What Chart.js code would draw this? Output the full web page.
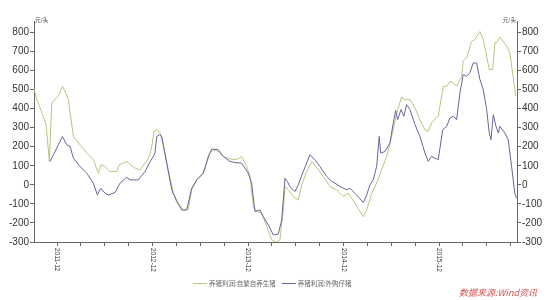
<!DOCTYPE html>
<html>
<head>
<meta charset="utf-8">
<script src="https://cdn.jsdelivr.net/npm/chart.js@4"></script>
<style>
  html, body { margin: 0; background: #fff; }
  canvas { display: block; }
</style>
</head>
<body>
<canvas id="chart" width="550" height="300"></canvas>
<script>
// x values are months counted from 2011-01 (0 = Jan 2011, 11 = Dec 2011)
const selfBredMonths = [8.11, 8.45, 8.86, 9.62, 10.03, 10.33, 10.96, 11.29, 11.67, 12.0, 12.42, 13.05, 13.89, 14.73, 15.56, 16.19, 16.49, 17.03, 17.66, 18.5, 18.83, 19.76, 20.8, 21.43, 22.18, 22.69, 22.93, 23.19, 23.53, 23.94, 24.35, 24.98, 25.61, 26.24, 26.87, 27.49, 27.92, 28.55, 29.18, 29.59, 30.22, 30.64, 31.26, 31.89, 32.73, 33.57, 34.2, 34.83, 35.25, 35.66, 36.09, 36.72, 37.35, 37.97, 38.6, 39.01, 39.43, 39.64, 40.06, 40.69, 41.31, 41.74, 42.37, 43.0, 43.83, 44.46, 45.3, 46.13, 46.97, 47.6, 48.44, 49.06, 49.48, 49.91, 50.54, 51.16, 51.79, 52.42, 53.05, 53.68, 54.3, 54.72, 55.35, 55.98, 56.6, 57.23, 57.65, 58.07, 58.49, 58.9, 59.53, 59.96, 60.37, 60.79, 61.21, 61.84, 62.04, 62.47, 63.1, 63.51, 64.14, 64.56, 64.99, 65.31, 65.74, 66.03, 66.24, 66.65, 67.07, 67.5, 67.91, 68.33, 68.66];
const selfBredProfit = [505, 447, 405, 316, 123, 430, 458, 474, 517, 491, 447, 254, 210, 167, 132, 61, 105, 96, 70, 70, 105, 123, 88, 79, 120, 160, 210, 281, 289, 275, 202, 79, -44, -96, -132, -128, -26, 26, 53, 88, 167, 184, 175, 149, 136, 132, 149, 96, 44, -114, -140, -149, -219, -289, -302, -289, -132, -9, -26, -61, -79, 0, 70, 123, 79, 44, -9, -26, -61, -44, -96, -140, -167, -132, -44, 9, 79, 149, 254, 377, 461, 447, 447, 404, 342, 289, 281, 325, 345, 360, 517, 517, 544, 535, 517, 570, 649, 667, 754, 763, 805, 763, 675, 605, 605, 746, 746, 775, 754, 728, 693, 561, 465];

const boughtMonths = [10.12, 10.54, 11.16, 11.67, 12.22, 12.63, 13.05, 13.89, 14.73, 15.56, 16.06, 16.49, 17.03, 17.44, 18.29, 18.91, 19.76, 20.17, 21.21, 22.05, 22.68, 23.1, 23.3, 23.53, 23.86, 24.16, 24.78, 25.41, 26.04, 26.67, 27.29, 27.92, 28.55, 29.38, 30.01, 30.43, 31.26, 31.89, 32.73, 33.36, 34.2, 35.03, 35.45, 35.87, 36.5, 36.92, 37.55, 38.17, 38.8, 39.23, 39.64, 39.93, 40.27, 40.9, 41.31, 41.94, 42.78, 43.41, 44.04, 44.88, 45.51, 45.92, 46.55, 47.39, 47.8, 48.64, 49.48, 49.91, 50.32, 50.74, 51.16, 51.49, 51.67, 52.21, 52.83, 53.25, 53.55, 53.8, 54.22, 54.59, 54.93, 55.35, 55.98, 56.6, 57.23, 57.65, 58.07, 58.49, 58.9, 59.46, 59.96, 60.37, 60.79, 61.21, 61.63, 62.04, 62.47, 62.88, 63.3, 63.72, 64.14, 64.56, 64.99, 65.31, 65.53, 65.82, 66.16, 66.45, 66.65, 67.28, 67.7, 68.12, 68.53, 68.72];
const boughtProfit = [123, 158, 210, 254, 210, 202, 140, 96, 61, 9, -53, -18, -44, -53, -40, 9, 40, 26, 26, 70, 120, 149, 167, 254, 263, 254, 114, -26, -88, -132, -132, -18, 26, 61, 149, 188, 184, 149, 123, 117, 114, 61, 9, -140, -132, -167, -211, -263, -258, -184, 35, 18, -9, -35, 0, 70, 158, 132, 96, 44, 18, 9, -9, -26, -18, -53, -93, -53, 0, 26, 96, 254, 167, 175, 219, 325, 391, 342, 395, 360, 421, 395, 316, 254, 167, 123, 149, 140, 132, 289, 307, 351, 360, 342, 483, 579, 570, 588, 640, 640, 553, 500, 395, 272, 237, 368, 307, 272, 307, 272, 237, 96, -44, -70];

const seriesNames = ['养猪利润:自繁自养生猪', '养猪利润:外购仔猪'];
const yearTicks = [11, 23, 35, 47, 59];
const yearLabels = ['2011-12', '2012-12', '2013-12', '2014-12', '2015-12'];
const unitLabel = '元/头';
const sourceNote = '数据来源:Wind资讯';

const quarterTicks = [];
for (let m = 11; m <= 68; m += 3) quarterTicks.push(m);

const toPoints = (xs, ys) => xs.map((x, i) => ({ x, y: ys[i] }));

const numFont = '"Liberation Sans", Arial, sans-serif';
const cjkFont = '"Noto Sans CJK SC", sans-serif';

const yAxis = (position, width) => ({
    position,
    min: -300,
    max: 860,
    afterFit: s => { s.width = width; },
    border: { color: '#666' },
    grid: { drawOnChartArea: false, tickLength: 4, color: '#666' },
    ticks: {
        stepSize: 50,
        includeBounds: false,
        padding: 1,
        color: '#333',
        font: { family: numFont, size: 10 },
        callback: v => (v % 100 === 0 ? v : '')
    }
});

// extra text: rotated year labels, units, legend, source
const extras = {
    id: 'extras',
    afterDraw(chart) {
        const { ctx, chartArea: a, scales: { x } } = chart;
        ctx.save();

        ctx.fillStyle = '#333';
        ctx.font = '6.5px ' + numFont;
        ctx.textBaseline = 'middle';
        ctx.textAlign = 'left';
        yearTicks.forEach((m, i) => {
            ctx.save();
            ctx.translate(x.getPixelForValue(m), a.bottom + 6);
            ctx.rotate(Math.PI / 2);
            ctx.fillText(yearLabels[i], 0, 0);
            ctx.restore();
        });

        ctx.font = '5.5px ' + cjkFont;
        ctx.fillStyle = '#444';
        ctx.fillText(unitLabel, a.left + 1, a.top - 1);
        ctx.textAlign = 'right';
        ctx.fillText(unitLabel, a.right - 1, a.top - 1);

        // legend
        ctx.textAlign = 'left';
        ctx.font = '6.5px ' + cjkFont;
        let lx = 193;
        const ly = 283.5;
        chart.data.datasets.forEach(ds => {
            ctx.strokeStyle = ds.borderColor;
            ctx.lineWidth = 1;
            ctx.beginPath();
            ctx.moveTo(lx, ly);
            ctx.lineTo(lx + 14, ly);
            ctx.stroke();
            ctx.fillStyle = '#666';
            ctx.fillText(ds.label, lx + 16, ly);
            lx += 16 + ctx.measureText(ds.label).width + 6;
        });

        ctx.font = 'italic 9px ' + cjkFont;
        ctx.fillStyle = '#d9534f';
        ctx.textAlign = 'right';
        ctx.fillText(sourceNote, 537, 293);
        ctx.restore();
    }
};

new Chart(document.getElementById('chart'), {
    type: 'line',
    data: {
        datasets: [
            {
                label: seriesNames[0],
                data: toPoints(selfBredMonths, selfBredProfit),
                borderColor: '#b9c480',
                borderWidth: 1,
                pointRadius: 0,
                order: 1
            },
            {
                label: seriesNames[1],
                data: toPoints(boughtMonths, boughtProfit),
                borderColor: '#66669a',
                borderWidth: 1,
                pointRadius: 0,
                order: 0
            }
        ]
    },
    options: {
        responsive: false,
        animation: false,
        devicePixelRatio: 1,
        layout: { padding: { top: 21, left: 0, right: 0, bottom: 0 } },
        plugins: { legend: { display: false }, tooltip: { enabled: false } },
        scales: {
            x: {
                type: 'linear',
                min: 8.1,
                max: 68.8,
                afterBuildTicks: s => { s.ticks = quarterTicks.map(v => ({ value: v })); },
                afterFit: s => { s.height = 58; },
                border: { color: '#666' },
                grid: { drawOnChartArea: false, tickLength: 4, color: '#666' },
                ticks: { display: false }
            },
            y: yAxis('left', 34),
            y2: yAxis('right', 33)
        }
    },
    plugins: [extras]
});
</script>
</body>
</html>
